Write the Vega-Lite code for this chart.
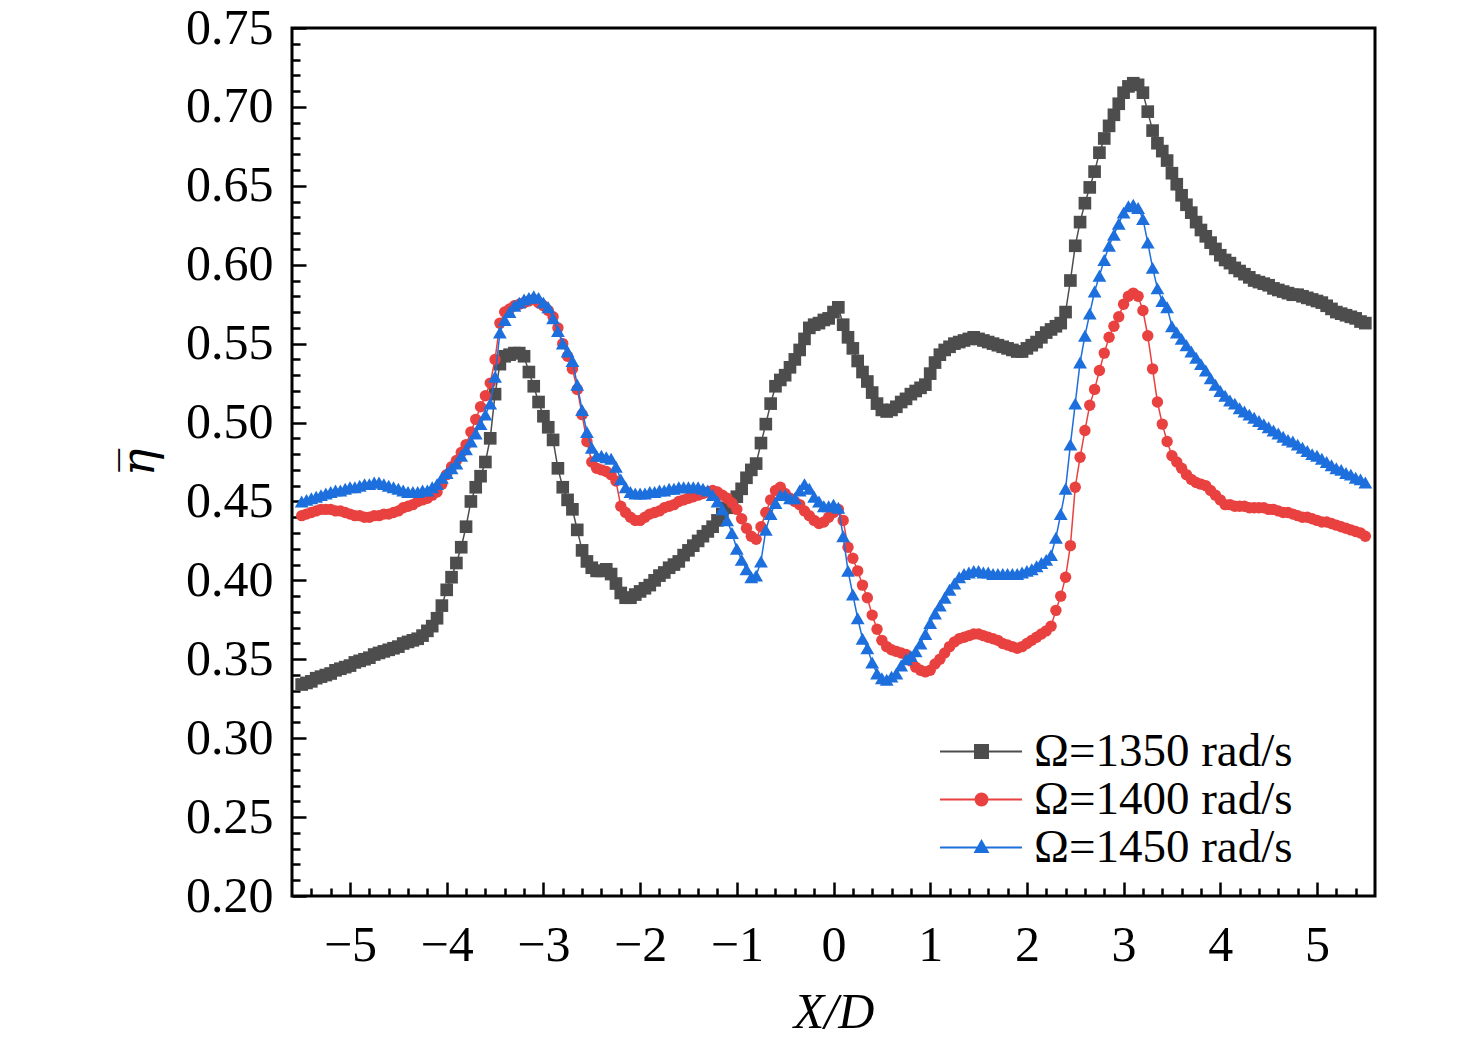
{
  "$schema": "https://vega.github.io/schema/vega-lite/v6.json",
  "description": "Mean eta vs X/D for three rotation speeds",
  "autosize": {"type": "none"},
  "padding": {"left": 292, "top": 28, "right": 101, "bottom": 147},
  "width": 1083,
  "height": 868,
  "background": "white",
  "data": {
    "values": [
      {"omega":"1350","x":-5.5,"y":0.334},{"omega":"1350","x":-5.45,"y":0.335},{"omega":"1350","x":-5.4,"y":0.336},{"omega":"1350","x":-5.35,"y":0.338},{"omega":"1350","x":-5.3,"y":0.339},
      {"omega":"1350","x":-5.25,"y":0.340},{"omega":"1350","x":-5.2,"y":0.341},{"omega":"1350","x":-5.15,"y":0.343},{"omega":"1350","x":-5.1,"y":0.344},{"omega":"1350","x":-5.05,"y":0.345},
      {"omega":"1350","x":-5,"y":0.346},{"omega":"1350","x":-4.95,"y":0.348},{"omega":"1350","x":-4.9,"y":0.349},{"omega":"1350","x":-4.85,"y":0.350},{"omega":"1350","x":-4.8,"y":0.351},
      {"omega":"1350","x":-4.75,"y":0.353},{"omega":"1350","x":-4.7,"y":0.354},{"omega":"1350","x":-4.65,"y":0.355},{"omega":"1350","x":-4.6,"y":0.356},{"omega":"1350","x":-4.55,"y":0.357},
      {"omega":"1350","x":-4.5,"y":0.358},{"omega":"1350","x":-4.45,"y":0.360},{"omega":"1350","x":-4.4,"y":0.361},{"omega":"1350","x":-4.35,"y":0.362},{"omega":"1350","x":-4.3,"y":0.363},
      {"omega":"1350","x":-4.25,"y":0.365},{"omega":"1350","x":-4.2,"y":0.368},{"omega":"1350","x":-4.15,"y":0.371},{"omega":"1350","x":-4.1,"y":0.376},{"omega":"1350","x":-4.05,"y":0.384},
      {"omega":"1350","x":-4,"y":0.394},{"omega":"1350","x":-3.95,"y":0.402},{"omega":"1350","x":-3.9,"y":0.411},{"omega":"1350","x":-3.85,"y":0.421},{"omega":"1350","x":-3.8,"y":0.434},
      {"omega":"1350","x":-3.75,"y":0.450},{"omega":"1350","x":-3.7,"y":0.459},{"omega":"1350","x":-3.65,"y":0.466},{"omega":"1350","x":-3.6,"y":0.475},{"omega":"1350","x":-3.55,"y":0.490},
      {"omega":"1350","x":-3.5,"y":0.518},{"omega":"1350","x":-3.45,"y":0.537},{"omega":"1350","x":-3.4,"y":0.542},{"omega":"1350","x":-3.35,"y":0.543},{"omega":"1350","x":-3.3,"y":0.544},
      {"omega":"1350","x":-3.25,"y":0.544},{"omega":"1350","x":-3.2,"y":0.542},{"omega":"1350","x":-3.15,"y":0.532},{"omega":"1350","x":-3.1,"y":0.523},{"omega":"1350","x":-3.05,"y":0.513},
      {"omega":"1350","x":-3,"y":0.504},{"omega":"1350","x":-2.95,"y":0.497},{"omega":"1350","x":-2.9,"y":0.489},{"omega":"1350","x":-2.85,"y":0.471},{"omega":"1350","x":-2.8,"y":0.459},
      {"omega":"1350","x":-2.75,"y":0.451},{"omega":"1350","x":-2.7,"y":0.445},{"omega":"1350","x":-2.65,"y":0.432},{"omega":"1350","x":-2.6,"y":0.419},{"omega":"1350","x":-2.55,"y":0.412},
      {"omega":"1350","x":-2.5,"y":0.408},{"omega":"1350","x":-2.45,"y":0.406},{"omega":"1350","x":-2.4,"y":0.406},{"omega":"1350","x":-2.35,"y":0.407},{"omega":"1350","x":-2.3,"y":0.404},
      {"omega":"1350","x":-2.25,"y":0.398},{"omega":"1350","x":-2.2,"y":0.392},{"omega":"1350","x":-2.15,"y":0.389},{"omega":"1350","x":-2.1,"y":0.389},{"omega":"1350","x":-2.05,"y":0.391},
      {"omega":"1350","x":-2,"y":0.393},{"omega":"1350","x":-1.95,"y":0.395},{"omega":"1350","x":-1.9,"y":0.397},{"omega":"1350","x":-1.85,"y":0.400},{"omega":"1350","x":-1.8,"y":0.403},
      {"omega":"1350","x":-1.75,"y":0.405},{"omega":"1350","x":-1.7,"y":0.408},{"omega":"1350","x":-1.65,"y":0.410},{"omega":"1350","x":-1.6,"y":0.412},{"omega":"1350","x":-1.55,"y":0.416},
      {"omega":"1350","x":-1.5,"y":0.419},{"omega":"1350","x":-1.45,"y":0.422},{"omega":"1350","x":-1.4,"y":0.425},{"omega":"1350","x":-1.35,"y":0.428},{"omega":"1350","x":-1.3,"y":0.431},
      {"omega":"1350","x":-1.25,"y":0.434},{"omega":"1350","x":-1.2,"y":0.438},{"omega":"1350","x":-1.15,"y":0.442},{"omega":"1350","x":-1.1,"y":0.446},{"omega":"1350","x":-1.05,"y":0.450},
      {"omega":"1350","x":-1,"y":0.453},{"omega":"1350","x":-0.95,"y":0.458},{"omega":"1350","x":-0.9,"y":0.465},{"omega":"1350","x":-0.85,"y":0.470},{"omega":"1350","x":-0.8,"y":0.474},
      {"omega":"1350","x":-0.75,"y":0.487},{"omega":"1350","x":-0.7,"y":0.499},{"omega":"1350","x":-0.65,"y":0.512},{"omega":"1350","x":-0.6,"y":0.523},{"omega":"1350","x":-0.55,"y":0.527},
      {"omega":"1350","x":-0.5,"y":0.530},{"omega":"1350","x":-0.45,"y":0.535},{"omega":"1350","x":-0.4,"y":0.540},{"omega":"1350","x":-0.35,"y":0.546},{"omega":"1350","x":-0.3,"y":0.553},
      {"omega":"1350","x":-0.25,"y":0.560},{"omega":"1350","x":-0.2,"y":0.562},{"omega":"1350","x":-0.15,"y":0.563},{"omega":"1350","x":-0.1,"y":0.565},{"omega":"1350","x":-0.05,"y":0.566},
      {"omega":"1350","x":0,"y":0.570},{"omega":"1350","x":0.05,"y":0.573},{"omega":"1350","x":0.1,"y":0.562},{"omega":"1350","x":0.15,"y":0.554},{"omega":"1350","x":0.2,"y":0.547},
      {"omega":"1350","x":0.25,"y":0.539},{"omega":"1350","x":0.3,"y":0.532},{"omega":"1350","x":0.35,"y":0.526},{"omega":"1350","x":0.4,"y":0.519},{"omega":"1350","x":0.45,"y":0.512},
      {"omega":"1350","x":0.5,"y":0.508},{"omega":"1350","x":0.55,"y":0.507},{"omega":"1350","x":0.6,"y":0.508},{"omega":"1350","x":0.65,"y":0.510},{"omega":"1350","x":0.7,"y":0.513},
      {"omega":"1350","x":0.75,"y":0.515},{"omega":"1350","x":0.8,"y":0.518},{"omega":"1350","x":0.85,"y":0.520},{"omega":"1350","x":0.9,"y":0.522},{"omega":"1350","x":0.95,"y":0.524},
      {"omega":"1350","x":1,"y":0.531},{"omega":"1350","x":1.05,"y":0.538},{"omega":"1350","x":1.1,"y":0.543},{"omega":"1350","x":1.15,"y":0.546},{"omega":"1350","x":1.2,"y":0.548},
      {"omega":"1350","x":1.25,"y":0.550},{"omega":"1350","x":1.3,"y":0.551},{"omega":"1350","x":1.35,"y":0.552},{"omega":"1350","x":1.4,"y":0.553},{"omega":"1350","x":1.45,"y":0.554},
      {"omega":"1350","x":1.5,"y":0.553},{"omega":"1350","x":1.55,"y":0.552},{"omega":"1350","x":1.6,"y":0.551},{"omega":"1350","x":1.65,"y":0.550},{"omega":"1350","x":1.7,"y":0.549},
      {"omega":"1350","x":1.75,"y":0.548},{"omega":"1350","x":1.8,"y":0.547},{"omega":"1350","x":1.85,"y":0.546},{"omega":"1350","x":1.9,"y":0.545},{"omega":"1350","x":1.95,"y":0.545},
      {"omega":"1350","x":2,"y":0.547},{"omega":"1350","x":2.05,"y":0.549},{"omega":"1350","x":2.1,"y":0.551},{"omega":"1350","x":2.15,"y":0.554},{"omega":"1350","x":2.2,"y":0.557},
      {"omega":"1350","x":2.25,"y":0.559},{"omega":"1350","x":2.3,"y":0.561},{"omega":"1350","x":2.35,"y":0.563},{"omega":"1350","x":2.4,"y":0.570},{"omega":"1350","x":2.45,"y":0.590},
      {"omega":"1350","x":2.5,"y":0.612},{"omega":"1350","x":2.55,"y":0.627},{"omega":"1350","x":2.6,"y":0.639},{"omega":"1350","x":2.65,"y":0.649},{"omega":"1350","x":2.7,"y":0.659},
      {"omega":"1350","x":2.75,"y":0.671},{"omega":"1350","x":2.8,"y":0.680},{"omega":"1350","x":2.85,"y":0.688},{"omega":"1350","x":2.9,"y":0.695},{"omega":"1350","x":2.95,"y":0.702},
      {"omega":"1350","x":3,"y":0.709},{"omega":"1350","x":3.05,"y":0.713},{"omega":"1350","x":3.1,"y":0.715},{"omega":"1350","x":3.15,"y":0.714},{"omega":"1350","x":3.2,"y":0.709},
      {"omega":"1350","x":3.25,"y":0.697},{"omega":"1350","x":3.3,"y":0.685},{"omega":"1350","x":3.35,"y":0.677},{"omega":"1350","x":3.4,"y":0.672},{"omega":"1350","x":3.45,"y":0.666},
      {"omega":"1350","x":3.5,"y":0.658},{"omega":"1350","x":3.55,"y":0.651},{"omega":"1350","x":3.6,"y":0.644},{"omega":"1350","x":3.65,"y":0.638},{"omega":"1350","x":3.7,"y":0.633},
      {"omega":"1350","x":3.75,"y":0.627},{"omega":"1350","x":3.8,"y":0.622},{"omega":"1350","x":3.85,"y":0.618},{"omega":"1350","x":3.9,"y":0.614},{"omega":"1350","x":3.95,"y":0.610},
      {"omega":"1350","x":4,"y":0.606},{"omega":"1350","x":4.05,"y":0.603},{"omega":"1350","x":4.1,"y":0.601},{"omega":"1350","x":4.15,"y":0.598},{"omega":"1350","x":4.2,"y":0.596},
      {"omega":"1350","x":4.25,"y":0.594},{"omega":"1350","x":4.3,"y":0.592},{"omega":"1350","x":4.35,"y":0.590},{"omega":"1350","x":4.4,"y":0.589},{"omega":"1350","x":4.45,"y":0.588},
      {"omega":"1350","x":4.5,"y":0.587},{"omega":"1350","x":4.55,"y":0.585},{"omega":"1350","x":4.6,"y":0.584},{"omega":"1350","x":4.65,"y":0.583},{"omega":"1350","x":4.7,"y":0.582},
      {"omega":"1350","x":4.75,"y":0.581},{"omega":"1350","x":4.8,"y":0.581},{"omega":"1350","x":4.85,"y":0.580},{"omega":"1350","x":4.9,"y":0.579},{"omega":"1350","x":4.95,"y":0.578},
      {"omega":"1350","x":5,"y":0.577},{"omega":"1350","x":5.05,"y":0.576},{"omega":"1350","x":5.1,"y":0.574},{"omega":"1350","x":5.15,"y":0.572},{"omega":"1350","x":5.2,"y":0.570},
      {"omega":"1350","x":5.25,"y":0.569},{"omega":"1350","x":5.3,"y":0.568},{"omega":"1350","x":5.35,"y":0.567},{"omega":"1350","x":5.4,"y":0.566},{"omega":"1350","x":5.45,"y":0.564},
      {"omega":"1350","x":5.5,"y":0.563},

      {"omega":"1400","x":-5.5,"y":0.441},{"omega":"1400","x":-5.45,"y":0.442},{"omega":"1400","x":-5.4,"y":0.443},{"omega":"1400","x":-5.35,"y":0.444},{"omega":"1400","x":-5.3,"y":0.445},
      {"omega":"1400","x":-5.25,"y":0.445},{"omega":"1400","x":-5.2,"y":0.445},{"omega":"1400","x":-5.15,"y":0.444},{"omega":"1400","x":-5.1,"y":0.444},{"omega":"1400","x":-5.05,"y":0.443},
      {"omega":"1400","x":-5,"y":0.442},{"omega":"1400","x":-4.95,"y":0.441},{"omega":"1400","x":-4.9,"y":0.441},{"omega":"1400","x":-4.85,"y":0.440},{"omega":"1400","x":-4.8,"y":0.440},
      {"omega":"1400","x":-4.75,"y":0.441},{"omega":"1400","x":-4.7,"y":0.441},{"omega":"1400","x":-4.65,"y":0.442},{"omega":"1400","x":-4.6,"y":0.442},{"omega":"1400","x":-4.55,"y":0.443},
      {"omega":"1400","x":-4.5,"y":0.444},{"omega":"1400","x":-4.45,"y":0.446},{"omega":"1400","x":-4.4,"y":0.447},{"omega":"1400","x":-4.35,"y":0.448},{"omega":"1400","x":-4.3,"y":0.450},
      {"omega":"1400","x":-4.25,"y":0.451},{"omega":"1400","x":-4.2,"y":0.452},{"omega":"1400","x":-4.15,"y":0.454},{"omega":"1400","x":-4.1,"y":0.456},{"omega":"1400","x":-4.05,"y":0.461},
      {"omega":"1400","x":-4,"y":0.467},{"omega":"1400","x":-3.95,"y":0.472},{"omega":"1400","x":-3.9,"y":0.476},{"omega":"1400","x":-3.85,"y":0.481},{"omega":"1400","x":-3.8,"y":0.486},
      {"omega":"1400","x":-3.75,"y":0.494},{"omega":"1400","x":-3.7,"y":0.502},{"omega":"1400","x":-3.65,"y":0.510},{"omega":"1400","x":-3.6,"y":0.517},{"omega":"1400","x":-3.55,"y":0.525},
      {"omega":"1400","x":-3.5,"y":0.540},{"omega":"1400","x":-3.45,"y":0.563},{"omega":"1400","x":-3.4,"y":0.570},{"omega":"1400","x":-3.35,"y":0.572},{"omega":"1400","x":-3.3,"y":0.574},
      {"omega":"1400","x":-3.25,"y":0.575},{"omega":"1400","x":-3.2,"y":0.576},{"omega":"1400","x":-3.15,"y":0.577},{"omega":"1400","x":-3.1,"y":0.578},{"omega":"1400","x":-3.05,"y":0.576},
      {"omega":"1400","x":-3,"y":0.574},{"omega":"1400","x":-2.95,"y":0.571},{"omega":"1400","x":-2.9,"y":0.567},{"omega":"1400","x":-2.85,"y":0.560},{"omega":"1400","x":-2.8,"y":0.550},
      {"omega":"1400","x":-2.75,"y":0.542},{"omega":"1400","x":-2.7,"y":0.534},{"omega":"1400","x":-2.65,"y":0.521},{"omega":"1400","x":-2.6,"y":0.505},{"omega":"1400","x":-2.55,"y":0.488},
      {"omega":"1400","x":-2.5,"y":0.475},{"omega":"1400","x":-2.45,"y":0.471},{"omega":"1400","x":-2.4,"y":0.470},{"omega":"1400","x":-2.35,"y":0.469},{"omega":"1400","x":-2.3,"y":0.467},
      {"omega":"1400","x":-2.25,"y":0.463},{"omega":"1400","x":-2.2,"y":0.447},{"omega":"1400","x":-2.15,"y":0.443},{"omega":"1400","x":-2.1,"y":0.440},{"omega":"1400","x":-2.05,"y":0.438},
      {"omega":"1400","x":-2,"y":0.438},{"omega":"1400","x":-1.95,"y":0.440},{"omega":"1400","x":-1.9,"y":0.442},{"omega":"1400","x":-1.85,"y":0.443},{"omega":"1400","x":-1.8,"y":0.444},
      {"omega":"1400","x":-1.75,"y":0.446},{"omega":"1400","x":-1.7,"y":0.447},{"omega":"1400","x":-1.65,"y":0.448},{"omega":"1400","x":-1.6,"y":0.450},{"omega":"1400","x":-1.55,"y":0.451},
      {"omega":"1400","x":-1.5,"y":0.452},{"omega":"1400","x":-1.45,"y":0.453},{"omega":"1400","x":-1.4,"y":0.454},{"omega":"1400","x":-1.35,"y":0.455},{"omega":"1400","x":-1.3,"y":0.456},
      {"omega":"1400","x":-1.25,"y":0.457},{"omega":"1400","x":-1.2,"y":0.456},{"omega":"1400","x":-1.15,"y":0.454},{"omega":"1400","x":-1.1,"y":0.452},{"omega":"1400","x":-1.05,"y":0.449},
      {"omega":"1400","x":-1,"y":0.445},{"omega":"1400","x":-0.95,"y":0.439},{"omega":"1400","x":-0.9,"y":0.433},{"omega":"1400","x":-0.85,"y":0.428},{"omega":"1400","x":-0.8,"y":0.426},
      {"omega":"1400","x":-0.75,"y":0.434},{"omega":"1400","x":-0.7,"y":0.443},{"omega":"1400","x":-0.65,"y":0.451},{"omega":"1400","x":-0.6,"y":0.457},{"omega":"1400","x":-0.55,"y":0.459},
      {"omega":"1400","x":-0.5,"y":0.455},{"omega":"1400","x":-0.45,"y":0.452},{"omega":"1400","x":-0.4,"y":0.450},{"omega":"1400","x":-0.35,"y":0.448},{"omega":"1400","x":-0.3,"y":0.444},
      {"omega":"1400","x":-0.25,"y":0.441},{"omega":"1400","x":-0.2,"y":0.438},{"omega":"1400","x":-0.15,"y":0.436},{"omega":"1400","x":-0.1,"y":0.437},{"omega":"1400","x":-0.05,"y":0.440},
      {"omega":"1400","x":0,"y":0.443},{"omega":"1400","x":0.05,"y":0.445},{"omega":"1400","x":0.1,"y":0.438},{"omega":"1400","x":0.15,"y":0.421},{"omega":"1400","x":0.2,"y":0.414},
      {"omega":"1400","x":0.25,"y":0.406},{"omega":"1400","x":0.3,"y":0.397},{"omega":"1400","x":0.35,"y":0.389},{"omega":"1400","x":0.4,"y":0.378},{"omega":"1400","x":0.45,"y":0.369},
      {"omega":"1400","x":0.5,"y":0.362},{"omega":"1400","x":0.55,"y":0.358},{"omega":"1400","x":0.6,"y":0.356},{"omega":"1400","x":0.65,"y":0.355},{"omega":"1400","x":0.7,"y":0.354},
      {"omega":"1400","x":0.75,"y":0.353},{"omega":"1400","x":0.8,"y":0.349},{"omega":"1400","x":0.85,"y":0.345},{"omega":"1400","x":0.9,"y":0.343},{"omega":"1400","x":0.95,"y":0.342},
      {"omega":"1400","x":1,"y":0.343},{"omega":"1400","x":1.05,"y":0.347},{"omega":"1400","x":1.1,"y":0.350},{"omega":"1400","x":1.15,"y":0.354},{"omega":"1400","x":1.2,"y":0.358},
      {"omega":"1400","x":1.25,"y":0.361},{"omega":"1400","x":1.3,"y":0.363},{"omega":"1400","x":1.35,"y":0.364},{"omega":"1400","x":1.4,"y":0.365},{"omega":"1400","x":1.45,"y":0.366},
      {"omega":"1400","x":1.5,"y":0.366},{"omega":"1400","x":1.55,"y":0.365},{"omega":"1400","x":1.6,"y":0.364},{"omega":"1400","x":1.65,"y":0.363},{"omega":"1400","x":1.7,"y":0.362},
      {"omega":"1400","x":1.75,"y":0.360},{"omega":"1400","x":1.8,"y":0.359},{"omega":"1400","x":1.85,"y":0.358},{"omega":"1400","x":1.9,"y":0.357},{"omega":"1400","x":1.95,"y":0.358},
      {"omega":"1400","x":2,"y":0.360},{"omega":"1400","x":2.05,"y":0.362},{"omega":"1400","x":2.1,"y":0.364},{"omega":"1400","x":2.15,"y":0.366},{"omega":"1400","x":2.2,"y":0.368},
      {"omega":"1400","x":2.25,"y":0.371},{"omega":"1400","x":2.3,"y":0.381},{"omega":"1400","x":2.35,"y":0.390},{"omega":"1400","x":2.4,"y":0.402},{"omega":"1400","x":2.45,"y":0.422},
      {"omega":"1400","x":2.5,"y":0.459},{"omega":"1400","x":2.55,"y":0.478},{"omega":"1400","x":2.6,"y":0.495},{"omega":"1400","x":2.65,"y":0.511},{"omega":"1400","x":2.7,"y":0.521},
      {"omega":"1400","x":2.75,"y":0.533},{"omega":"1400","x":2.8,"y":0.544},{"omega":"1400","x":2.85,"y":0.554},{"omega":"1400","x":2.9,"y":0.561},{"omega":"1400","x":2.95,"y":0.567},
      {"omega":"1400","x":3,"y":0.575},{"omega":"1400","x":3.05,"y":0.580},{"omega":"1400","x":3.1,"y":0.582},{"omega":"1400","x":3.15,"y":0.580},{"omega":"1400","x":3.2,"y":0.571},
      {"omega":"1400","x":3.25,"y":0.555},{"omega":"1400","x":3.3,"y":0.534},{"omega":"1400","x":3.35,"y":0.513},{"omega":"1400","x":3.4,"y":0.499},{"omega":"1400","x":3.45,"y":0.488},
      {"omega":"1400","x":3.5,"y":0.479},{"omega":"1400","x":3.55,"y":0.475},{"omega":"1400","x":3.6,"y":0.471},{"omega":"1400","x":3.65,"y":0.467},{"omega":"1400","x":3.7,"y":0.464},
      {"omega":"1400","x":3.75,"y":0.462},{"omega":"1400","x":3.8,"y":0.461},{"omega":"1400","x":3.85,"y":0.460},{"omega":"1400","x":3.9,"y":0.457},{"omega":"1400","x":3.95,"y":0.454},
      {"omega":"1400","x":4,"y":0.451},{"omega":"1400","x":4.05,"y":0.448},{"omega":"1400","x":4.1,"y":0.448},{"omega":"1400","x":4.15,"y":0.447},{"omega":"1400","x":4.2,"y":0.447},
      {"omega":"1400","x":4.25,"y":0.447},{"omega":"1400","x":4.3,"y":0.446},{"omega":"1400","x":4.35,"y":0.446},{"omega":"1400","x":4.4,"y":0.446},{"omega":"1400","x":4.45,"y":0.446},
      {"omega":"1400","x":4.5,"y":0.445},{"omega":"1400","x":4.55,"y":0.445},{"omega":"1400","x":4.6,"y":0.444},{"omega":"1400","x":4.65,"y":0.443},{"omega":"1400","x":4.7,"y":0.443},
      {"omega":"1400","x":4.75,"y":0.442},{"omega":"1400","x":4.8,"y":0.441},{"omega":"1400","x":4.85,"y":0.440},{"omega":"1400","x":4.9,"y":0.440},{"omega":"1400","x":4.95,"y":0.439},
      {"omega":"1400","x":5,"y":0.438},{"omega":"1400","x":5.05,"y":0.437},{"omega":"1400","x":5.1,"y":0.437},{"omega":"1400","x":5.15,"y":0.436},{"omega":"1400","x":5.2,"y":0.435},
      {"omega":"1400","x":5.25,"y":0.434},{"omega":"1400","x":5.3,"y":0.433},{"omega":"1400","x":5.35,"y":0.432},{"omega":"1400","x":5.4,"y":0.431},{"omega":"1400","x":5.45,"y":0.430},
      {"omega":"1400","x":5.5,"y":0.428},

      {"omega":"1450","x":-5.5,"y":0.450},{"omega":"1450","x":-5.45,"y":0.451},{"omega":"1450","x":-5.4,"y":0.452},{"omega":"1450","x":-5.35,"y":0.453},{"omega":"1450","x":-5.3,"y":0.454},
      {"omega":"1450","x":-5.25,"y":0.455},{"omega":"1450","x":-5.2,"y":0.456},{"omega":"1450","x":-5.15,"y":0.457},{"omega":"1450","x":-5.1,"y":0.457},{"omega":"1450","x":-5.05,"y":0.458},
      {"omega":"1450","x":-5,"y":0.459},{"omega":"1450","x":-4.95,"y":0.459},{"omega":"1450","x":-4.9,"y":0.460},{"omega":"1450","x":-4.85,"y":0.461},{"omega":"1450","x":-4.8,"y":0.461},
      {"omega":"1450","x":-4.75,"y":0.462},{"omega":"1450","x":-4.7,"y":0.462},{"omega":"1450","x":-4.65,"y":0.461},{"omega":"1450","x":-4.6,"y":0.460},{"omega":"1450","x":-4.55,"y":0.459},
      {"omega":"1450","x":-4.5,"y":0.458},{"omega":"1450","x":-4.45,"y":0.457},{"omega":"1450","x":-4.4,"y":0.456},{"omega":"1450","x":-4.35,"y":0.456},{"omega":"1450","x":-4.3,"y":0.456},
      {"omega":"1450","x":-4.25,"y":0.457},{"omega":"1450","x":-4.2,"y":0.457},{"omega":"1450","x":-4.15,"y":0.459},{"omega":"1450","x":-4.1,"y":0.461},{"omega":"1450","x":-4.05,"y":0.465},
      {"omega":"1450","x":-4,"y":0.468},{"omega":"1450","x":-3.95,"y":0.471},{"omega":"1450","x":-3.9,"y":0.474},{"omega":"1450","x":-3.85,"y":0.479},{"omega":"1450","x":-3.8,"y":0.483},
      {"omega":"1450","x":-3.75,"y":0.488},{"omega":"1450","x":-3.7,"y":0.493},{"omega":"1450","x":-3.65,"y":0.499},{"omega":"1450","x":-3.6,"y":0.505},{"omega":"1450","x":-3.55,"y":0.512},
      {"omega":"1450","x":-3.5,"y":0.529},{"omega":"1450","x":-3.45,"y":0.557},{"omega":"1450","x":-3.4,"y":0.565},{"omega":"1450","x":-3.35,"y":0.570},{"omega":"1450","x":-3.3,"y":0.574},
      {"omega":"1450","x":-3.25,"y":0.576},{"omega":"1450","x":-3.2,"y":0.578},{"omega":"1450","x":-3.15,"y":0.579},{"omega":"1450","x":-3.1,"y":0.580},{"omega":"1450","x":-3.05,"y":0.579},
      {"omega":"1450","x":-3,"y":0.576},{"omega":"1450","x":-2.95,"y":0.573},{"omega":"1450","x":-2.9,"y":0.566},{"omega":"1450","x":-2.85,"y":0.558},{"omega":"1450","x":-2.8,"y":0.550},
      {"omega":"1450","x":-2.75,"y":0.545},{"omega":"1450","x":-2.7,"y":0.539},{"omega":"1450","x":-2.65,"y":0.524},{"omega":"1450","x":-2.6,"y":0.508},{"omega":"1450","x":-2.55,"y":0.494},
      {"omega":"1450","x":-2.5,"y":0.484},{"omega":"1450","x":-2.45,"y":0.479},{"omega":"1450","x":-2.4,"y":0.479},{"omega":"1450","x":-2.35,"y":0.478},{"omega":"1450","x":-2.3,"y":0.477},
      {"omega":"1450","x":-2.25,"y":0.472},{"omega":"1450","x":-2.2,"y":0.464},{"omega":"1450","x":-2.15,"y":0.459},{"omega":"1450","x":-2.1,"y":0.456},{"omega":"1450","x":-2.05,"y":0.455},
      {"omega":"1450","x":-2,"y":0.455},{"omega":"1450","x":-1.95,"y":0.455},{"omega":"1450","x":-1.9,"y":0.456},{"omega":"1450","x":-1.85,"y":0.456},{"omega":"1450","x":-1.8,"y":0.457},
      {"omega":"1450","x":-1.75,"y":0.457},{"omega":"1450","x":-1.7,"y":0.458},{"omega":"1450","x":-1.65,"y":0.458},{"omega":"1450","x":-1.6,"y":0.459},{"omega":"1450","x":-1.55,"y":0.459},
      {"omega":"1450","x":-1.5,"y":0.459},{"omega":"1450","x":-1.45,"y":0.459},{"omega":"1450","x":-1.4,"y":0.459},{"omega":"1450","x":-1.35,"y":0.458},{"omega":"1450","x":-1.3,"y":0.457},
      {"omega":"1450","x":-1.25,"y":0.454},{"omega":"1450","x":-1.2,"y":0.450},{"omega":"1450","x":-1.15,"y":0.445},{"omega":"1450","x":-1.1,"y":0.438},{"omega":"1450","x":-1.05,"y":0.430},
      {"omega":"1450","x":-1,"y":0.420},{"omega":"1450","x":-0.95,"y":0.413},{"omega":"1450","x":-0.9,"y":0.407},{"omega":"1450","x":-0.85,"y":0.402},{"omega":"1450","x":-0.8,"y":0.403},
      {"omega":"1450","x":-0.75,"y":0.412},{"omega":"1450","x":-0.7,"y":0.432},{"omega":"1450","x":-0.65,"y":0.442},{"omega":"1450","x":-0.6,"y":0.449},{"omega":"1450","x":-0.55,"y":0.454},
      {"omega":"1450","x":-0.5,"y":0.454},{"omega":"1450","x":-0.45,"y":0.452},{"omega":"1450","x":-0.4,"y":0.452},{"omega":"1450","x":-0.35,"y":0.457},{"omega":"1450","x":-0.3,"y":0.461},
      {"omega":"1450","x":-0.25,"y":0.458},{"omega":"1450","x":-0.2,"y":0.453},{"omega":"1450","x":-0.15,"y":0.450},{"omega":"1450","x":-0.1,"y":0.447},{"omega":"1450","x":-0.05,"y":0.447},
      {"omega":"1450","x":0,"y":0.448},{"omega":"1450","x":0.05,"y":0.446},{"omega":"1450","x":0.1,"y":0.428},{"omega":"1450","x":0.15,"y":0.406},{"omega":"1450","x":0.2,"y":0.391},
      {"omega":"1450","x":0.25,"y":0.376},{"omega":"1450","x":0.3,"y":0.363},{"omega":"1450","x":0.35,"y":0.357},{"omega":"1450","x":0.4,"y":0.348},{"omega":"1450","x":0.45,"y":0.341},
      {"omega":"1450","x":0.5,"y":0.338},{"omega":"1450","x":0.55,"y":0.337},{"omega":"1450","x":0.6,"y":0.339},{"omega":"1450","x":0.65,"y":0.341},{"omega":"1450","x":0.7,"y":0.346},
      {"omega":"1450","x":0.75,"y":0.350},{"omega":"1450","x":0.8,"y":0.352},{"omega":"1450","x":0.85,"y":0.355},{"omega":"1450","x":0.9,"y":0.360},{"omega":"1450","x":0.95,"y":0.366},
      {"omega":"1450","x":1,"y":0.373},{"omega":"1450","x":1.05,"y":0.379},{"omega":"1450","x":1.1,"y":0.384},{"omega":"1450","x":1.15,"y":0.389},{"omega":"1450","x":1.2,"y":0.394},
      {"omega":"1450","x":1.25,"y":0.398},{"omega":"1450","x":1.3,"y":0.402},{"omega":"1450","x":1.35,"y":0.404},{"omega":"1450","x":1.4,"y":0.405},{"omega":"1450","x":1.45,"y":0.406},
      {"omega":"1450","x":1.5,"y":0.406},{"omega":"1450","x":1.55,"y":0.405},{"omega":"1450","x":1.6,"y":0.405},{"omega":"1450","x":1.65,"y":0.404},{"omega":"1450","x":1.7,"y":0.404},
      {"omega":"1450","x":1.75,"y":0.404},{"omega":"1450","x":1.8,"y":0.404},{"omega":"1450","x":1.85,"y":0.404},{"omega":"1450","x":1.9,"y":0.404},{"omega":"1450","x":1.95,"y":0.405},
      {"omega":"1450","x":2,"y":0.406},{"omega":"1450","x":2.05,"y":0.407},{"omega":"1450","x":2.1,"y":0.409},{"omega":"1450","x":2.15,"y":0.411},{"omega":"1450","x":2.2,"y":0.413},
      {"omega":"1450","x":2.25,"y":0.416},{"omega":"1450","x":2.3,"y":0.427},{"omega":"1450","x":2.35,"y":0.442},{"omega":"1450","x":2.4,"y":0.458},{"omega":"1450","x":2.45,"y":0.486},
      {"omega":"1450","x":2.5,"y":0.512},{"omega":"1450","x":2.55,"y":0.538},{"omega":"1450","x":2.6,"y":0.555},{"omega":"1450","x":2.65,"y":0.569},{"omega":"1450","x":2.7,"y":0.583},
      {"omega":"1450","x":2.75,"y":0.593},{"omega":"1450","x":2.8,"y":0.603},{"omega":"1450","x":2.85,"y":0.612},{"omega":"1450","x":2.9,"y":0.619},{"omega":"1450","x":2.95,"y":0.626},
      {"omega":"1450","x":3,"y":0.633},{"omega":"1450","x":3.05,"y":0.637},{"omega":"1450","x":3.1,"y":0.638},{"omega":"1450","x":3.15,"y":0.636},{"omega":"1450","x":3.2,"y":0.629},
      {"omega":"1450","x":3.25,"y":0.614},{"omega":"1450","x":3.3,"y":0.598},{"omega":"1450","x":3.35,"y":0.585},{"omega":"1450","x":3.4,"y":0.577},{"omega":"1450","x":3.45,"y":0.573},
      {"omega":"1450","x":3.5,"y":0.561},{"omega":"1450","x":3.55,"y":0.557},{"omega":"1450","x":3.6,"y":0.553},{"omega":"1450","x":3.65,"y":0.549},{"omega":"1450","x":3.7,"y":0.545},
      {"omega":"1450","x":3.75,"y":0.541},{"omega":"1450","x":3.8,"y":0.537},{"omega":"1450","x":3.85,"y":0.533},{"omega":"1450","x":3.9,"y":0.528},{"omega":"1450","x":3.95,"y":0.524},
      {"omega":"1450","x":4,"y":0.520},{"omega":"1450","x":4.05,"y":0.517},{"omega":"1450","x":4.1,"y":0.514},{"omega":"1450","x":4.15,"y":0.512},{"omega":"1450","x":4.2,"y":0.509},
      {"omega":"1450","x":4.25,"y":0.507},{"omega":"1450","x":4.3,"y":0.505},{"omega":"1450","x":4.35,"y":0.503},{"omega":"1450","x":4.4,"y":0.501},{"omega":"1450","x":4.45,"y":0.499},
      {"omega":"1450","x":4.5,"y":0.497},{"omega":"1450","x":4.55,"y":0.495},{"omega":"1450","x":4.6,"y":0.493},{"omega":"1450","x":4.65,"y":0.491},{"omega":"1450","x":4.7,"y":0.489},
      {"omega":"1450","x":4.75,"y":0.488},{"omega":"1450","x":4.8,"y":0.486},{"omega":"1450","x":4.85,"y":0.484},{"omega":"1450","x":4.9,"y":0.482},{"omega":"1450","x":4.95,"y":0.480},
      {"omega":"1450","x":5,"y":0.479},{"omega":"1450","x":5.05,"y":0.477},{"omega":"1450","x":5.1,"y":0.475},{"omega":"1450","x":5.15,"y":0.473},{"omega":"1450","x":5.2,"y":0.471},
      {"omega":"1450","x":5.25,"y":0.470},{"omega":"1450","x":5.3,"y":0.468},{"omega":"1450","x":5.35,"y":0.467},{"omega":"1450","x":5.4,"y":0.465},{"omega":"1450","x":5.45,"y":0.464},
      {"omega":"1450","x":5.5,"y":0.462}
    ]
  },
  "encoding": {
    "x": {
      "field": "x",
      "type": "quantitative",
      "scale": {"domain": [-5.6, 5.6], "nice": false, "zero": false},
      "axis": {
        "title": "X/D",
        "titleFontStyle": "italic",
        "titlePadding": 11,
        "values": [-5.4,-5.2,-5,-4.8,-4.6,-4.4,-4.2,-4,-3.8,-3.6,-3.4,-3.2,-3,-2.8,-2.6,-2.4,-2.2,-2,-1.8,-1.6,-1.4,-1.2,-1,-0.8,-0.6,-0.4,-0.2,0,0.2,0.4,0.6,0.8,1,1.2,1.4,1.6,1.8,2,2.2,2.4,2.6,2.8,3,3.2,3.4,3.6,3.8,4,4.2,4.4,4.6,4.8,5,5.2,5.4],
        "labelExpr": "abs(datum.value - round(datum.value)) < 0.001 ? format(round(datum.value), 'd') : ''",
        "tickSize": {"condition": {"test": "abs(datum.value - round(datum.value)) < 0.001", "value": -14}, "value": -8},
        "labelPadding": 38
      }
    },
    "y": {
      "field": "y",
      "type": "quantitative",
      "scale": {"domain": [0.2, 0.75], "nice": false, "zero": false},
      "axis": {
        "title": "η̅",
        "titleFont": "DejaVu Serif",
        "titleFontSize": 46,
        "titleFontStyle": "italic",
        "titlePadding": 22,
        "values": [0.2,0.21,0.22,0.23,0.24,0.25,0.26,0.27,0.28,0.29,0.3,0.31,0.32,0.33,0.34,0.35,0.36,0.37,0.38,0.39,0.4,0.41,0.42,0.43,0.44,0.45,0.46,0.47,0.48,0.49,0.5,0.51,0.52,0.53,0.54,0.55,0.56,0.57,0.58,0.59,0.6,0.61,0.62,0.63,0.64,0.65,0.66,0.67,0.68,0.69,0.7,0.71,0.72,0.73,0.74,0.75],
        "labelExpr": "abs(datum.value * 20 - round(datum.value * 20)) < 0.001 ? format(datum.value, '.2f') : ''",
        "tickSize": {"condition": {"test": "abs(datum.value * 20 - round(datum.value * 20)) < 0.001", "value": -14}, "value": -8},
        "labelPadding": 33
      }
    },
    "color": {
      "field": "omega",
      "type": "nominal",
      "scale": {"domain": ["1350", "1400", "1450"], "range": ["#4d4d4d", "#e8413f", "#1c6fdc"]},
      "legend": {
        "orient": "none",
        "legendX": 666,
        "legendY": 700,
        "title": null,
        "padding": 0,
        "labelExpr": "'Ω=' + datum.label + ' rad/s'",
        "labelFont": "Liberation Serif",
        "labelFontSize": 47,
        "labelColor": "black",
        "labelLimit": 600,
        "labelOffset": 29,
        "symbolSize": 100,
        "rowPadding": 0,
        "encode": {
          "symbols": {
            "update": {
              "shape": {"signal": "datum.value === '1350' ? 'M-8.3,0H8.1M-1.3,-1.3H1.3V1.3H-1.3Z' : datum.value === '1400' ? 'M-8.3,0H8.1M-1.2,0A1.2,1.2 0 1,0 1.2,0A1.2,1.2 0 1,0 -1.2,0Z' : 'M-8.3,0H8.1M0,-1.3L1.25,0.9H-1.25Z'"},
              "fill": {"signal": "scale('color', datum.value)"},
              "stroke": {"signal": "scale('color', datum.value)"},
              "strokeWidth": {"value": 2},
              "opacity": {"value": 1},
              "fillOpacity": {"value": 1},
              "strokeOpacity": {"value": 1}
            }
          }
        }
      }
    }
  },
  "layer": [
    {
      "transform": [{"filter": "datum.omega === '1350'"}],
      "mark": {"type": "line", "strokeWidth": 1.5, "point": {"shape": "square", "size": 160, "filled": true, "opacity": 1}}
    },
    {
      "transform": [{"filter": "datum.omega === '1400'"}],
      "mark": {"type": "line", "strokeWidth": 1.5, "point": {"shape": "circle", "size": 130, "filled": true, "opacity": 1}}
    },
    {
      "transform": [{"filter": "datum.omega === '1450'"}],
      "mark": {"type": "line", "strokeWidth": 1.5, "point": {"shape": "triangle-up", "size": 190, "filled": true, "opacity": 1}}
    }
  ],
  "config": {
    "view": {"stroke": "black", "strokeWidth": 3},
    "axis": {
      "domain": false,
      "grid": false,
      "tickColor": "black",
      "tickWidth": 2.5,
      "labelFont": "Liberation Serif",
      "labelFontSize": 50,
      "labelColor": "black",
      "labelOverlap": false,
      "labelBound": false,
      "labelFlush": false,
      "titleFont": "Liberation Serif",
      "titleFontSize": 50,
      "titleFontWeight": "normal",
      "titleColor": "black"
    }
  }
}
